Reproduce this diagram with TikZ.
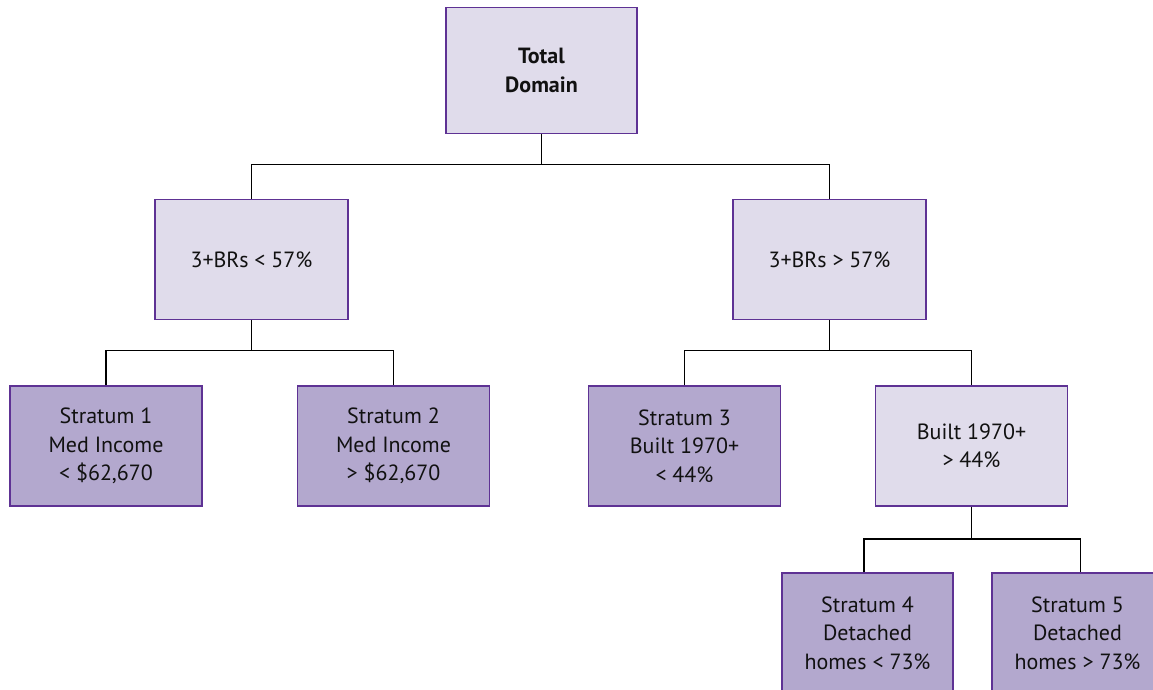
\documentclass[tikz,border=0pt]{standalone}
\usepackage{fontspec}
\setmainfont{PT Sans}
\definecolor{lightbox}{HTML}{E0DCEB}
\definecolor{darkbox}{HTML}{B3A8CE}
\definecolor{edge}{HTML}{5E3294}
\definecolor{txt}{HTML}{111111}
\begin{document}
\begin{tikzpicture}[x=1pt,y=-1pt,
  box/.style={draw=edge, line width=1.8pt, rectangle, inner sep=0pt, align=center,
    text=txt, font=\fontsize{22}{28.5}\selectfont},
  lightnode/.style={box, fill=lightbox},
  darknode/.style={box, fill=darkbox},
  conn/.style={draw=black, line width=1.8pt}]
\useasboundingbox (0,0) rectangle (1153,689);
\clip (0,0) rectangle (1153,689);
\fill[white] (0,0) rectangle (1153,689);

\node[lightnode, minimum width=191pt, minimum height=126pt] (top) at (541.5,70.5) {\bfseries Total\\\bfseries Domain};

\node[lightnode, minimum width=193pt, minimum height=120pt] (l2a) at (251.5,259.5) {3+BRs < 57\%};
\node[lightnode, minimum width=193pt, minimum height=120pt] (l2b) at (829.5,259.5) {3+BRs > 57\%};

\node[darknode, minimum width=192pt, minimum height=120pt] (s1) at (106,446) {Stratum 1\\Med Income\\< \$62,670};
\node[darknode, minimum width=192pt, minimum height=120pt] (s2) at (393.5,446) {Stratum 2\\Med Income\\> \$62,670};
\node[darknode, minimum width=192pt, minimum height=120pt] (s3) at (684.5,446) {Stratum 3\\Built 1970+\\< 44\%};
\node[lightnode, minimum width=192pt, minimum height=120pt] (b70) at (971.5,446) {Built 1970+\\> 44\%};

\node[darknode, minimum width=171pt, minimum height=120pt] (s4) at (867.5,633) {Stratum 4\\Detached\\homes < 73\%};
\node[darknode, minimum width=171pt, minimum height=120pt] (s5) at (1077.5,633) {Stratum 5\\Detached\\homes > 73\%};

\draw[conn] (top.south) -- ++(0,30) coordinate (j0);
\draw[conn] (l2a.north) |- (j0) -| (l2b.north);

\draw[conn] (l2a.south) -- ++(0,30) coordinate (j1);
\draw[conn] (s1.north) |- (j1) -| (s2.north);

\draw[conn] (l2b.south) -- ++(0,30) coordinate (j2);
\draw[conn] (s3.north) |- (j2) -| (b70.north);

\draw[conn] (b70.south) -- ++(0,32) coordinate (j3);
\draw[conn] ([xshift=-3.5pt]s4.north) |- (j3) -| ([xshift=3pt]s5.north);
\end{tikzpicture}
\end{document}
